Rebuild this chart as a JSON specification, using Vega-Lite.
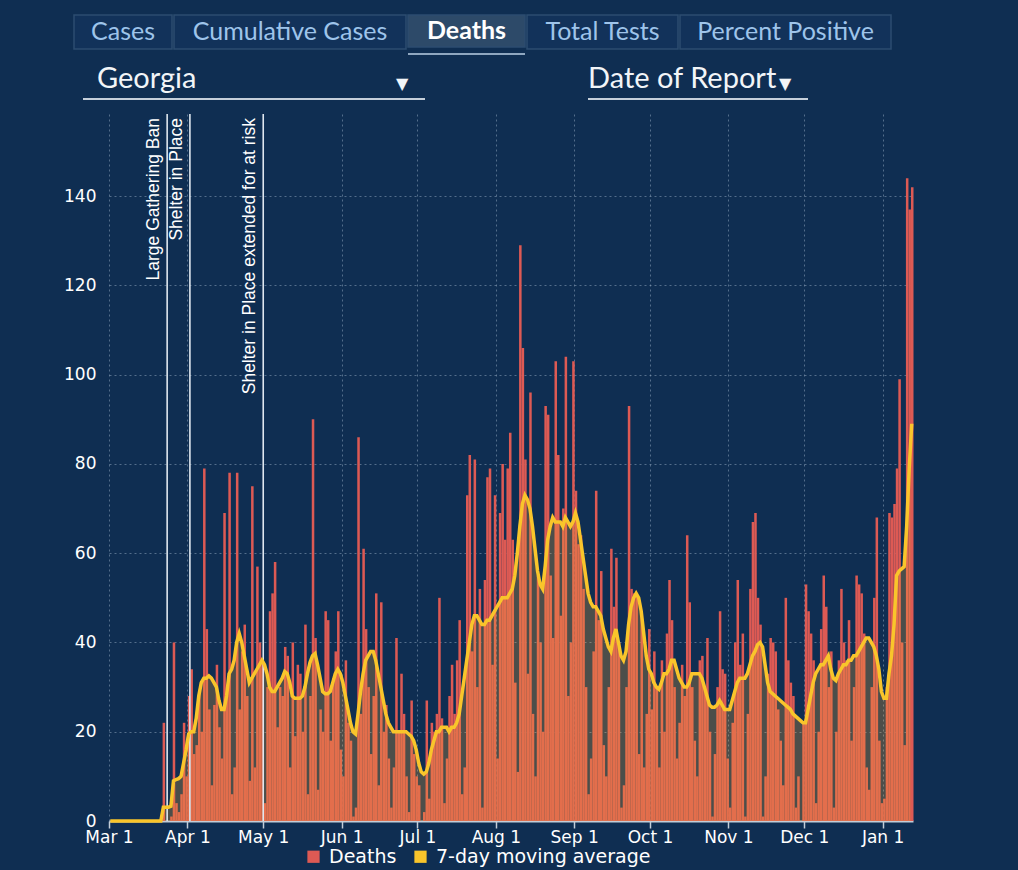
{
"$schema":"https://vega.github.io/schema/vega-lite/v6.json",
"background":"#0f2e52",
"padding":{"left":58,"top":14,"right":105,"bottom":6},
"config":{"view":{"stroke":null},"font":"DejaVu Sans"},
"datasets":{
"events":[
{"date":"2020-03-24","label":"Large Gathering Ban"},
{"date":"2020-04-02","label":"Shelter in Place"},
{"date":"2020-05-01","label":"Shelter in Place extended for at risk"}],
"deaths":[
{"date":"2020-03-01","deaths":0,"ma":0},{"date":"2020-03-02","deaths":0,"ma":0},{"date":"2020-03-03","deaths":0,"ma":0},{"date":"2020-03-04","deaths":0,"ma":0},{"date":"2020-03-05","deaths":0,"ma":0},{"date":"2020-03-06","deaths":0,"ma":0},{"date":"2020-03-07","deaths":0,"ma":0},{"date":"2020-03-08","deaths":0,"ma":0},{"date":"2020-03-09","deaths":0,"ma":0},{"date":"2020-03-10","deaths":0,"ma":0},{"date":"2020-03-11","deaths":0,"ma":0},{"date":"2020-03-12","deaths":0,"ma":0},{"date":"2020-03-13","deaths":0,"ma":0},{"date":"2020-03-14","deaths":0,"ma":0},{"date":"2020-03-15","deaths":0,"ma":0},{"date":"2020-03-16","deaths":0,"ma":0},{"date":"2020-03-17","deaths":0,"ma":0},{"date":"2020-03-18","deaths":0,"ma":0},{"date":"2020-03-19","deaths":0,"ma":0},{"date":"2020-03-20","deaths":0,"ma":0},{"date":"2020-03-21","deaths":0,"ma":0},
{"date":"2020-03-22","deaths":22,"ma":3.1},{"date":"2020-03-23","deaths":0,"ma":3.1},{"date":"2020-03-24","deaths":0,"ma":3.1},{"date":"2020-03-25","deaths":1,"ma":3.3},{"date":"2020-03-26","deaths":40,"ma":9},{"date":"2020-03-27","deaths":4,"ma":9.3},{"date":"2020-03-28","deaths":2,"ma":9.5},{"date":"2020-03-29","deaths":6,"ma":10},{"date":"2020-03-30","deaths":22,"ma":13},{"date":"2020-03-31","deaths":10,"ma":16},
{"date":"2020-04-01","deaths":28,"ma":19.5},{"date":"2020-04-02","deaths":34,"ma":20},{"date":"2020-04-03","deaths":15,"ma":20},{"date":"2020-04-04","deaths":17,"ma":23},{"date":"2020-04-05","deaths":29,"ma":28},{"date":"2020-04-06","deaths":20,"ma":31},{"date":"2020-04-07","deaths":79,"ma":32},{"date":"2020-04-08","deaths":43,"ma":32},{"date":"2020-04-09","deaths":25,"ma":32.5},{"date":"2020-04-10","deaths":8,"ma":32},{"date":"2020-04-11","deaths":26,"ma":31},{"date":"2020-04-12","deaths":35,"ma":30},{"date":"2020-04-13","deaths":21,"ma":27},{"date":"2020-04-14","deaths":14,"ma":25},{"date":"2020-04-15","deaths":69,"ma":25},{"date":"2020-04-16","deaths":30,"ma":28},{"date":"2020-04-17","deaths":78,"ma":33},{"date":"2020-04-18","deaths":6,"ma":34},{"date":"2020-04-19","deaths":12,"ma":36},{"date":"2020-04-20","deaths":78,"ma":40},{"date":"2020-04-21","deaths":25,"ma":42},{"date":"2020-04-22","deaths":38,"ma":40},{"date":"2020-04-23","deaths":44,"ma":37},{"date":"2020-04-24","deaths":28,"ma":34},{"date":"2020-04-25","deaths":9,"ma":31},{"date":"2020-04-26","deaths":75,"ma":32},{"date":"2020-04-27","deaths":12,"ma":33},{"date":"2020-04-28","deaths":57,"ma":34},{"date":"2020-04-29","deaths":40,"ma":35},{"date":"2020-04-30","deaths":36,"ma":36},
{"date":"2020-05-01","deaths":4,"ma":35},{"date":"2020-05-02","deaths":30,"ma":33},{"date":"2020-05-03","deaths":47,"ma":30},{"date":"2020-05-04","deaths":51,"ma":29},{"date":"2020-05-05","deaths":58,"ma":29},{"date":"2020-05-06","deaths":21,"ma":30},{"date":"2020-05-07","deaths":30,"ma":31},{"date":"2020-05-08","deaths":28,"ma":32},{"date":"2020-05-09","deaths":39,"ma":33.5},{"date":"2020-05-10","deaths":37,"ma":33},{"date":"2020-05-11","deaths":12,"ma":31},{"date":"2020-05-12","deaths":40,"ma":28},{"date":"2020-05-13","deaths":19,"ma":27.5},{"date":"2020-05-14","deaths":35,"ma":27.5},{"date":"2020-05-15","deaths":33,"ma":27.5},{"date":"2020-05-16","deaths":20,"ma":28},{"date":"2020-05-17","deaths":44,"ma":30},{"date":"2020-05-18","deaths":6,"ma":33},{"date":"2020-05-19","deaths":28,"ma":35.5},{"date":"2020-05-20","deaths":90,"ma":37},{"date":"2020-05-21","deaths":41,"ma":37.5},{"date":"2020-05-22","deaths":7,"ma":35},{"date":"2020-05-23","deaths":25,"ma":32},{"date":"2020-05-24","deaths":20,"ma":29},{"date":"2020-05-25","deaths":47,"ma":28.5},{"date":"2020-05-26","deaths":45,"ma":28.5},{"date":"2020-05-27","deaths":18,"ma":29},{"date":"2020-05-28","deaths":32,"ma":31},{"date":"2020-05-29","deaths":38,"ma":33},{"date":"2020-05-30","deaths":47,"ma":34},{"date":"2020-05-31","deaths":16,"ma":33},
{"date":"2020-06-01","deaths":10,"ma":31},{"date":"2020-06-02","deaths":36,"ma":28},{"date":"2020-06-03","deaths":22,"ma":25},{"date":"2020-06-04","deaths":18,"ma":22},{"date":"2020-06-05","deaths":1,"ma":20},{"date":"2020-06-06","deaths":3,"ma":19.5},{"date":"2020-06-07","deaths":86,"ma":24},{"date":"2020-06-08","deaths":24,"ma":29},{"date":"2020-06-09","deaths":61,"ma":33},{"date":"2020-06-10","deaths":43,"ma":36},{"date":"2020-06-11","deaths":30,"ma":37},{"date":"2020-06-12","deaths":15,"ma":38},{"date":"2020-06-13","deaths":28,"ma":38},{"date":"2020-06-14","deaths":51,"ma":36},{"date":"2020-06-15","deaths":8,"ma":33},{"date":"2020-06-16","deaths":49,"ma":30},{"date":"2020-06-17","deaths":20,"ma":27},{"date":"2020-06-18","deaths":26,"ma":24},{"date":"2020-06-19","deaths":14,"ma":22},{"date":"2020-06-20","deaths":3,"ma":21},{"date":"2020-06-21","deaths":12,"ma":20},{"date":"2020-06-22","deaths":41,"ma":20},{"date":"2020-06-23","deaths":20,"ma":20},{"date":"2020-06-24","deaths":33,"ma":20},{"date":"2020-06-25","deaths":24,"ma":20},{"date":"2020-06-26","deaths":10,"ma":20},{"date":"2020-06-27","deaths":2,"ma":19.5},{"date":"2020-06-28","deaths":27,"ma":19},{"date":"2020-06-29","deaths":15,"ma":18},{"date":"2020-06-30","deaths":10,"ma":16},
{"date":"2020-07-01","deaths":8,"ma":13},{"date":"2020-07-02","deaths":0,"ma":11},{"date":"2020-07-03","deaths":2,"ma":10.5},{"date":"2020-07-04","deaths":27,"ma":11},{"date":"2020-07-05","deaths":5,"ma":13},{"date":"2020-07-06","deaths":22,"ma":16},{"date":"2020-07-07","deaths":20,"ma":18},{"date":"2020-07-08","deaths":24,"ma":20},{"date":"2020-07-09","deaths":50,"ma":20},{"date":"2020-07-10","deaths":23,"ma":21},{"date":"2020-07-11","deaths":4,"ma":21},{"date":"2020-07-12","deaths":14,"ma":21},{"date":"2020-07-13","deaths":28,"ma":20},{"date":"2020-07-14","deaths":35,"ma":21},{"date":"2020-07-15","deaths":24,"ma":21},{"date":"2020-07-16","deaths":36,"ma":22},{"date":"2020-07-17","deaths":45,"ma":24},{"date":"2020-07-18","deaths":6,"ma":28},{"date":"2020-07-19","deaths":12,"ma":32},{"date":"2020-07-20","deaths":73,"ma":36},{"date":"2020-07-21","deaths":82,"ma":40},{"date":"2020-07-22","deaths":38,"ma":44},{"date":"2020-07-23","deaths":81,"ma":46},{"date":"2020-07-24","deaths":30,"ma":46},{"date":"2020-07-25","deaths":52,"ma":45},{"date":"2020-07-26","deaths":3,"ma":44},{"date":"2020-07-27","deaths":54,"ma":44},{"date":"2020-07-28","deaths":77,"ma":45},{"date":"2020-07-29","deaths":79,"ma":45},{"date":"2020-07-30","deaths":35,"ma":46},{"date":"2020-07-31","deaths":73,"ma":47},
{"date":"2020-08-01","deaths":14,"ma":48},{"date":"2020-08-02","deaths":69,"ma":49},{"date":"2020-08-03","deaths":80,"ma":50},{"date":"2020-08-04","deaths":63,"ma":50},{"date":"2020-08-05","deaths":79,"ma":50},{"date":"2020-08-06","deaths":87,"ma":51},{"date":"2020-08-07","deaths":63,"ma":52},{"date":"2020-08-08","deaths":31,"ma":55},{"date":"2020-08-09","deaths":11,"ma":60},{"date":"2020-08-10","deaths":129,"ma":66},{"date":"2020-08-11","deaths":106,"ma":71},{"date":"2020-08-12","deaths":81,"ma":73},{"date":"2020-08-13","deaths":33,"ma":72},{"date":"2020-08-14","deaths":96,"ma":70},{"date":"2020-08-15","deaths":24,"ma":66},{"date":"2020-08-16","deaths":10,"ma":61},{"date":"2020-08-17","deaths":55,"ma":56},{"date":"2020-08-18","deaths":40,"ma":53},{"date":"2020-08-19","deaths":20,"ma":52},{"date":"2020-08-20","deaths":93,"ma":57},{"date":"2020-08-21","deaths":91,"ma":63},{"date":"2020-08-22","deaths":55,"ma":66},{"date":"2020-08-23","deaths":41,"ma":68},{"date":"2020-08-24","deaths":103,"ma":67},{"date":"2020-08-25","deaths":82,"ma":67},{"date":"2020-08-26","deaths":46,"ma":67},{"date":"2020-08-27","deaths":70,"ma":66},{"date":"2020-08-28","deaths":104,"ma":68},{"date":"2020-08-29","deaths":28,"ma":67},{"date":"2020-08-30","deaths":40,"ma":66},{"date":"2020-08-31","deaths":103,"ma":67},
{"date":"2020-09-01","deaths":74,"ma":69},{"date":"2020-09-02","deaths":62,"ma":67},{"date":"2020-09-03","deaths":64,"ma":63},{"date":"2020-09-04","deaths":52,"ma":59},{"date":"2020-09-05","deaths":30,"ma":55},{"date":"2020-09-06","deaths":6,"ma":51},{"date":"2020-09-07","deaths":14,"ma":49},{"date":"2020-09-08","deaths":38,"ma":48},{"date":"2020-09-09","deaths":74,"ma":48},{"date":"2020-09-10","deaths":45,"ma":47},{"date":"2020-09-11","deaths":56,"ma":46},{"date":"2020-09-12","deaths":17,"ma":43},{"date":"2020-09-13","deaths":10,"ma":41},{"date":"2020-09-14","deaths":30,"ma":39},{"date":"2020-09-15","deaths":61,"ma":38},{"date":"2020-09-16","deaths":48,"ma":41},{"date":"2020-09-17","deaths":59,"ma":43},{"date":"2020-09-18","deaths":40,"ma":40},{"date":"2020-09-19","deaths":3,"ma":37},{"date":"2020-09-20","deaths":8,"ma":36},{"date":"2020-09-21","deaths":30,"ma":38},{"date":"2020-09-22","deaths":93,"ma":44},{"date":"2020-09-23","deaths":52,"ma":48},{"date":"2020-09-24","deaths":51,"ma":50},{"date":"2020-09-25","deaths":51,"ma":51},{"date":"2020-09-26","deaths":15,"ma":50},{"date":"2020-09-27","deaths":46,"ma":47},{"date":"2020-09-28","deaths":12,"ma":42},{"date":"2020-09-29","deaths":24,"ma":37},{"date":"2020-09-30","deaths":43,"ma":34},
{"date":"2020-10-01","deaths":25,"ma":33},{"date":"2020-10-02","deaths":38,"ma":31},{"date":"2020-10-03","deaths":30,"ma":30},{"date":"2020-10-04","deaths":12,"ma":29.5},{"date":"2020-10-05","deaths":36,"ma":31},{"date":"2020-10-06","deaths":20,"ma":33},{"date":"2020-10-07","deaths":42,"ma":33},{"date":"2020-10-08","deaths":54,"ma":34},{"date":"2020-10-09","deaths":45,"ma":36},{"date":"2020-10-10","deaths":30,"ma":36},{"date":"2020-10-11","deaths":14,"ma":34},{"date":"2020-10-12","deaths":22,"ma":32},{"date":"2020-10-13","deaths":35,"ma":31},{"date":"2020-10-14","deaths":28,"ma":30},{"date":"2020-10-15","deaths":64,"ma":30},{"date":"2020-10-16","deaths":49,"ma":31},{"date":"2020-10-17","deaths":30,"ma":33},{"date":"2020-10-18","deaths":18,"ma":33},{"date":"2020-10-19","deaths":10,"ma":33},{"date":"2020-10-20","deaths":36,"ma":33},{"date":"2020-10-21","deaths":37,"ma":32},{"date":"2020-10-22","deaths":30,"ma":30},{"date":"2020-10-23","deaths":41,"ma":28},{"date":"2020-10-24","deaths":20,"ma":26},{"date":"2020-10-25","deaths":1,"ma":25.5},{"date":"2020-10-26","deaths":15,"ma":25.5},{"date":"2020-10-27","deaths":30,"ma":26},{"date":"2020-10-28","deaths":47,"ma":27},{"date":"2020-10-29","deaths":34,"ma":26},{"date":"2020-10-30","deaths":33,"ma":25},{"date":"2020-10-31","deaths":14,"ma":25},
{"date":"2020-11-01","deaths":3,"ma":25},{"date":"2020-11-02","deaths":22,"ma":27},{"date":"2020-11-03","deaths":40,"ma":29},{"date":"2020-11-04","deaths":54,"ma":31},{"date":"2020-11-05","deaths":35,"ma":32},{"date":"2020-11-06","deaths":42,"ma":32},{"date":"2020-11-07","deaths":1,"ma":32},{"date":"2020-11-08","deaths":24,"ma":33},{"date":"2020-11-09","deaths":52,"ma":35},{"date":"2020-11-10","deaths":67,"ma":37},{"date":"2020-11-11","deaths":69,"ma":38},{"date":"2020-11-12","deaths":50,"ma":39.5},{"date":"2020-11-13","deaths":44,"ma":40},{"date":"2020-11-14","deaths":1,"ma":39},{"date":"2020-11-15","deaths":10,"ma":35},{"date":"2020-11-16","deaths":33,"ma":31},{"date":"2020-11-17","deaths":41,"ma":29},{"date":"2020-11-18","deaths":40,"ma":28.5},{"date":"2020-11-19","deaths":38,"ma":28},{"date":"2020-11-20","deaths":25,"ma":27.5},{"date":"2020-11-21","deaths":18,"ma":27},{"date":"2020-11-22","deaths":8,"ma":26.5},{"date":"2020-11-23","deaths":50,"ma":26},{"date":"2020-11-24","deaths":36,"ma":25.5},{"date":"2020-11-25","deaths":31,"ma":25},{"date":"2020-11-26","deaths":28,"ma":24},{"date":"2020-11-27","deaths":3,"ma":23.5},{"date":"2020-11-28","deaths":10,"ma":23},{"date":"2020-11-29","deaths":0,"ma":22.5},{"date":"2020-11-30","deaths":22,"ma":22},
{"date":"2020-12-01","deaths":53,"ma":22},{"date":"2020-12-02","deaths":47,"ma":25},{"date":"2020-12-03","deaths":42,"ma":28},{"date":"2020-12-04","deaths":36,"ma":31},{"date":"2020-12-05","deaths":4,"ma":33},{"date":"2020-12-06","deaths":20,"ma":34},{"date":"2020-12-07","deaths":43,"ma":35},{"date":"2020-12-08","deaths":55,"ma":35},{"date":"2020-12-09","deaths":48,"ma":36},{"date":"2020-12-10","deaths":30,"ma":37},{"date":"2020-12-11","deaths":38,"ma":34},{"date":"2020-12-12","deaths":3,"ma":32},{"date":"2020-12-13","deaths":20,"ma":31.5},{"date":"2020-12-14","deaths":36,"ma":33},{"date":"2020-12-15","deaths":52,"ma":34},{"date":"2020-12-16","deaths":40,"ma":35},{"date":"2020-12-17","deaths":36,"ma":35},{"date":"2020-12-18","deaths":45,"ma":36},{"date":"2020-12-19","deaths":18,"ma":36},{"date":"2020-12-20","deaths":30,"ma":37},{"date":"2020-12-21","deaths":55,"ma":37},{"date":"2020-12-22","deaths":53,"ma":38},{"date":"2020-12-23","deaths":51,"ma":39},{"date":"2020-12-24","deaths":42,"ma":40},{"date":"2020-12-25","deaths":12,"ma":41},{"date":"2020-12-26","deaths":7,"ma":41},{"date":"2020-12-27","deaths":30,"ma":40},{"date":"2020-12-28","deaths":50,"ma":39},{"date":"2020-12-29","deaths":68,"ma":37},{"date":"2020-12-30","deaths":18,"ma":34},{"date":"2020-12-31","deaths":4,"ma":29},
{"date":"2021-01-01","deaths":5,"ma":27.5},{"date":"2021-01-02","deaths":30,"ma":27.5},{"date":"2021-01-03","deaths":69,"ma":33},{"date":"2021-01-04","deaths":68,"ma":37},{"date":"2021-01-05","deaths":71,"ma":44},{"date":"2021-01-06","deaths":79,"ma":55},{"date":"2021-01-07","deaths":99,"ma":56},{"date":"2021-01-08","deaths":40,"ma":56.5},{"date":"2021-01-09","deaths":17,"ma":57},{"date":"2021-01-10","deaths":144,"ma":66},{"date":"2021-01-11","deaths":137,"ma":79},{"date":"2021-01-12","deaths":142,"ma":89}
]},
"spacing":6,
"vconcat":[
{"spacing":0,"hconcat":[
 {"width":15,"height":34,"data":{"values":[{}]},"mark":{"type":"text","text":""}},
 {"width":98,"height":34,"view":{"fill":"#12325a","stroke":"#2c4c70","strokeWidth":1.5},"data":{"values":[{}]},"mark":{"type":"text","text":"Cases","font":"Lato","fontSize":25,"color":"#9ec4ea"}},
 {"width":232,"height":34,"view":{"fill":"#12325a","stroke":"#2c4c70","strokeWidth":1.5},"data":{"values":[{}]},"mark":{"type":"text","text":"Cumulative Cases","font":"Lato","fontSize":25,"color":"#9ec4ea"}},
 {"spacing":0,"vconcat":[
   {"width":117,"height":32,"view":{"fill":"#2d4a69","stroke":"#2c4c70","strokeWidth":1.5},"data":{"values":[{}]},"mark":{"type":"text","text":"Deaths","font":"Lato","fontSize":25,"fontWeight":"bold","color":"#ffffff"}},
   {"width":117,"height":2,"view":{"fill":"#8fa7c0"},"data":{"values":[{}]},"mark":{"type":"text","text":""}}
 ]},
 {"width":151,"height":34,"view":{"fill":"#12325a","stroke":"#2c4c70","strokeWidth":1.5},"data":{"values":[{}]},"mark":{"type":"text","text":"Total Tests","font":"Lato","fontSize":25,"color":"#9ec4ea"}},
 {"width":211,"height":34,"view":{"fill":"#12325a","stroke":"#2c4c70","strokeWidth":1.5},"data":{"values":[{}]},"mark":{"type":"text","text":"Percent Positive","font":"Lato","fontSize":25,"color":"#9ec4ea"}}
]},
{"spacing":9,"vconcat":[
 {"spacing":0,"hconcat":[
  {"width":25,"height":2,"data":{"values":[{}]},"mark":{"type":"text","text":""}},
  {"width":313,"height":2,"view":{"fill":"#c5cfda"},"title":{"text":"Georgia","anchor":"start","dx":14,"font":"Lato","fontSize":29,"fontWeight":"normal","color":"#f2f5f8","offset":-1},"data":{"values":[{}]},"mark":{"type":"text","text":""}},
  {"width":29,"height":2,"view":{"fill":"#c5cfda"},"title":{"text":"▼","anchor":"start","dx":0,"font":"DejaVu Sans","fontSize":16,"fontWeight":"normal","color":"#f2f5f8","offset":1},"data":{"values":[{}]},"mark":{"type":"text","text":""}},
  {"width":163,"height":2,"data":{"values":[{}]},"mark":{"type":"text","text":""}},
  {"width":191,"height":2,"view":{"fill":"#c5cfda"},"title":{"text":"Date of Report","anchor":"start","font":"Lato","fontSize":29,"fontWeight":"normal","color":"#f2f5f8","offset":-1},"data":{"values":[{}]},"mark":{"type":"text","text":""}},
  {"width":29,"height":2,"view":{"fill":"#c5cfda"},"title":{"text":"▼","anchor":"start","dx":0,"font":"DejaVu Sans","fontSize":16,"fontWeight":"normal","color":"#f2f5f8","offset":1},"data":{"values":[{}]},"mark":{"type":"text","text":""}}
 ]},
 {"width":855,"height":707,
  "data":{"name":"deaths"},
  "layer":[
   {"mark":{"type":"bar","binSpacing":0},
    "encoding":{
     "x":{"field":"date","timeUnit":"utcyearmonthdate","type":"temporal",
       "scale":{"type":"utc","domain":[{"year":2020,"month":"mar","date":1,"utc":true},{"year":2021,"month":"jan","date":13,"utc":true}],"range":[51,855],"nice":false},
       "axis":{"title":null,"labelExpr":"utcFormat(datum.value, '%b %-d')","tickCount":{"interval":"month","step":1},"labelFlush":false,"labelOverlap":false,"labelFont":"DejaVu Sans","labelFontSize":17,"labelColor":"#ffffff","labelPadding":1,"domainColor":"#c3cdd8","domainWidth":2,"tickColor":"#c3cdd8","tickSize":7,"tickWidth":1.5,"grid":true,"gridColor":"#8ea4bc","gridDash":[2,3],"gridOpacity":0.55,"gridWidth":1}},
     "y":{"field":"deaths","type":"quantitative",
       "scale":{"domain":[0,158.4],"nice":false},
       "axis":{"title":null,"offset":-51,"values":[0,20,40,60,80,100,120,140],"domain":false,"ticks":false,"tickSize":0,"labelPadding":13,"labelFont":"DejaVu Sans","labelFontSize":17,"labelColor":"#ffffff","grid":true,"gridColor":"#8ea4bc","gridDash":[2,3],"gridOpacity":0.55,"gridWidth":1}},
     "color":{"datum":"Deaths","type":"nominal",
       "scale":{"domain":["Deaths","7-day moving average"],"range":["#dd5a54","#f9c52b"]},
       "legend":{"title":null,"orient":"none","legendX":246,"legendY":832,"direction":"horizontal","symbolType":"square","symbolSize":150,"labelFont":"DejaVu Sans","labelFontSize":19,"labelColor":"#ffffff","labelLimit":400,"labelOffset":6,"columnPadding":14,"padding":0,
         "encode":{"symbols":{"update":{"shape":{"value":"square"},"size":{"value":150},"fill":{"scale":"color","field":"value"},"fillOpacity":{"value":1},"stroke":{"value":"transparent"},"strokeWidth":{"value":0},"opacity":{"value":1}}}}}}
    }},
   {"mark":{"type":"area","color":"#f4a536","opacity":0.27},
    "encoding":{
     "x":{"field":"date","timeUnit":"utcyearmonthdate","type":"temporal","bandPosition":0.5},
     "y":{"field":"ma","type":"quantitative"}}},
   {"data":{"name":"events"},"mark":{"type":"rule","color":"#dfe7ef","strokeWidth":1.6},
    "encoding":{"x":{"field":"date","timeUnit":"utcyearmonthdate","type":"temporal"}}},
   {"data":{"name":"events"},"mark":{"type":"text","angle":270,"align":"right","baseline":"bottom","dx":-4,"dy":-4,"font":"Liberation Sans","fontSize":17.5,"color":"#ffffff"},
    "encoding":{"x":{"field":"date","timeUnit":"utcyearmonthdate","type":"temporal"},"y":{"datum":158.4,"type":"quantitative"},"text":{"field":"label"}}},
   {"mark":{"type":"line","strokeWidth":3.5},
    "encoding":{
     "x":{"field":"date","timeUnit":"utcyearmonthdate","type":"temporal","bandPosition":0.5},
     "y":{"field":"ma","type":"quantitative"},
     "color":{"datum":"7-day moving average","type":"nominal"}}}
  ]}
]}
]
}
